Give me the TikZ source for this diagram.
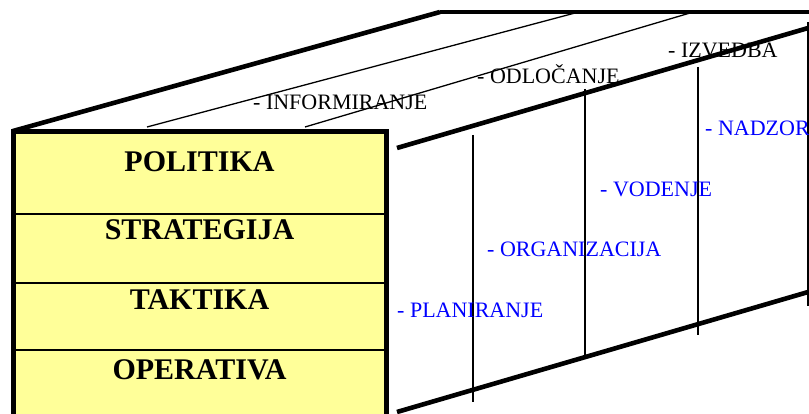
\documentclass[tikz,border=0pt]{standalone}
\usepackage{fontspec}
\setmainfont{Liberation Serif}
\definecolor{boxyellow}{RGB}{255,255,153}
\definecolor{lblue}{RGB}{0,0,255}
\begin{document}
\begin{tikzpicture}[x=1pt,y=-1pt,
  thickline/.style={line width=4.6pt},
  thinline/.style={line width=1.3pt},
  levelbox/.style={fill=boxyellow,draw=black,line width=5pt},
  levellabel/.style={font=\bfseries\fontsize{30}{36}\selectfont,anchor=base,inner sep=0pt},
  funclabel/.style={font=\fontsize{22}{26}\selectfont,anchor=base west,inner sep=0pt},
  bluelabel/.style={funclabel,text=lblue},
]
\useasboundingbox (0,0) rectangle (809,414);
\clip (0,0) rectangle (809,414);

% perspective coordinates
\coordinate (tl) at (13,131);
\coordinate (tb) at (440,12);
\coordinate (tr) at (815,12);
\coordinate (ra) at (397,148);
\coordinate (rb) at (815,26);
\coordinate (ba) at (397,412);
\coordinate (bb) at (815,290);
\coordinate (a1) at (147,127); \coordinate (a2) at (575,13);
\coordinate (b1) at (305,127); \coordinate (b2) at (690,13);
\coordinate (v1t) at (473,135); \coordinate (v1b) at (473,402);
\coordinate (v2t) at (585,89);  \coordinate (v2b) at (585,355);
\coordinate (v3t) at (698,67);  \coordinate (v3b) at (698,335);
\coordinate (v4t) at (808,22);  \coordinate (v4b) at (808,306);

% top face
\draw[thickline] (tl) -- (tb);
\draw[thickline] (tb) -- (tr);
\draw[thinline] (a1) -- (a2);
\draw[thinline] (b1) -- (b2);

% right face
\draw[thickline] (ra) -- (rb);
\draw[thickline] (ba) -- (bb);
\draw[thinline] (v1t) -- (v1b);
\draw[thinline] (v2t) -- (v2b);
\draw[thinline] (v3t) -- (v3b);
\draw[thinline] (v4t) -- (v4b);

% front box
\draw[levelbox] (13,132) rectangle (386,450);
\coordinate (d1l) at (13,214); \coordinate (d1r) at (386,214);
\coordinate (d2l) at (13,283); \coordinate (d2r) at (386,283);
\coordinate (d3l) at (13,350); \coordinate (d3r) at (386,350);
\draw[thinline] (d1l) -- (d1r);
\draw[thinline] (d2l) -- (d2r);
\draw[thinline] (d3l) -- (d3r);

\node[levellabel] (pol) at (199.5,172) {POLITIKA};
\node[levellabel] (str) at (199.5,240) {STRATEGIJA};
\node[levellabel] (tak) at (199.5,309) {TAKTIKA};
\node[levellabel] (ope) at (199.5,379) {OPERATIVA};

% function labels
\node[funclabel] (inf) at (253,110) {- INFORMIRANJE};
\node[funclabel] (odl) at (477,84) {- ODLOČANJE};
\node[funclabel] (izv) at (668,58) {- IZVEDBA};
\node[bluelabel] (nad) at (705,136) {- NADZOR};
\node[bluelabel] (vod) at (600,197) {- VODENJE};
\node[bluelabel] (org) at (487,257) {- ORGANIZACIJA};
\node[bluelabel] (pla) at (397,317) {- PLANIRANJE};
\end{tikzpicture}
\end{document}
